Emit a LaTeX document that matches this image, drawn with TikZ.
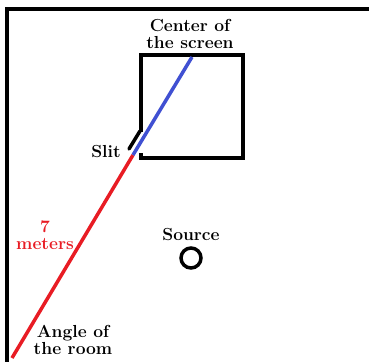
\documentclass[tikz,border=0pt]{standalone}
\usepackage{fontspec}
\definecolor{raycol}{RGB}{232,28,36}
\definecolor{beamcol}{RGB}{64,80,210}
\tikzset{
  wall/.style={line width=4bp, black},
  lbl/.style={font=\fontsize{17.5}{17}\selectfont\bfseries, align=center, inner sep=0pt},
}
\begin{document}
\begin{tikzpicture}[x=1bp,y=-1bp]
\useasboundingbox (0,0) rectangle (369,362);
% room walls
\coordinate (tr) at (369,9);
\coordinate (tl) at (7,9);
\coordinate (bl) at (7,362);
\draw[wall, line join=miter] (tr) -- (tl) -- (bl);
% screen box
\coordinate (b1) at (141,132);
\coordinate (b2) at (141,55);
\coordinate (b3) at (243,55);
\coordinate (b4) at (243,158);
\coordinate (b5) at (141,158);
\coordinate (b6) at (141,153);
\draw[wall, line join=miter] (b1) -- (b2) -- (b3) -- (b4) -- (b5) -- (b6);
% slit flap
\coordinate (s1) at (140,131);
\coordinate (s2) at (129,149);
\draw[line width=3.5bp, black, line cap=round] (s1) -- (s2);
% rays
\coordinate (corner) at (12,358);
\coordinate (slit) at (133,155);
\coordinate (center) at (192,57);
\draw[raycol, line width=3.5bp] (corner) -- (slit);
\draw[beamcol, line width=3.5bp] (slit) -- (center);
% source
\node[circle, draw, line width=3.5bp, minimum size=20bp, inner sep=0pt] (src) at (191,258) {};
% labels
\node[lbl] (lcenter) at (190,34) {Center of\\the screen};
\node[lbl, anchor=east] (lslit) at (121,152) {Slit};
\node[lbl, text=raycol] (ldist) at (45,235) {7\\meters};
\node[lbl] (lsource) at (191,235) {Source};
\node[lbl] (lcorner) at (73,340) {Angle of\\the room};
\end{tikzpicture}
\end{document}
